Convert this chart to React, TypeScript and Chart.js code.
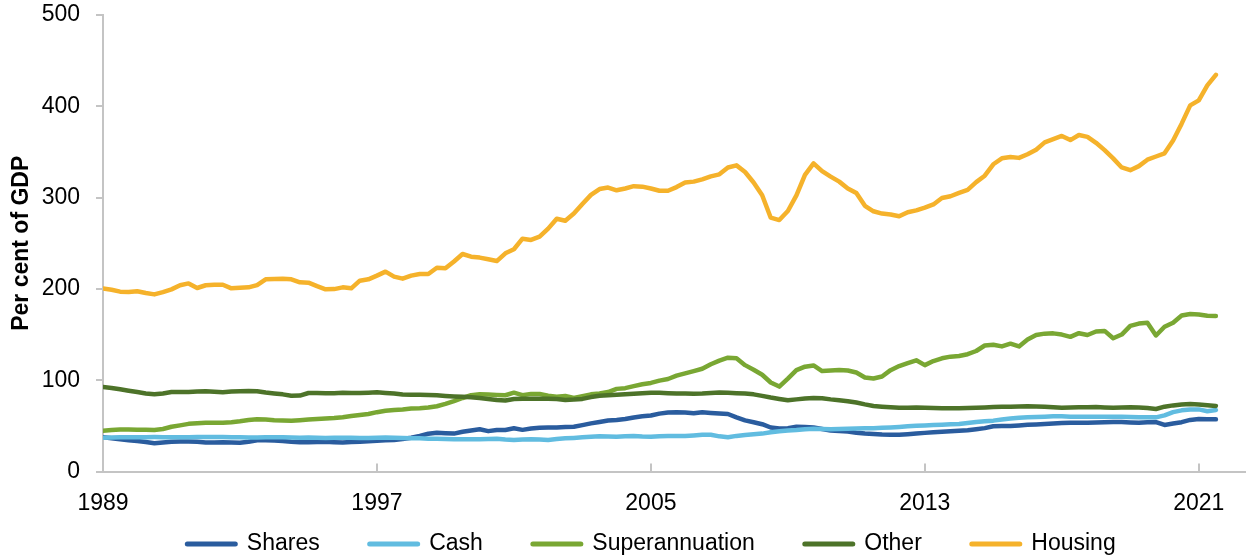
import React, { useEffect, useRef } from 'react';
import { Chart, registerables } from 'chart.js';

Chart.register(...registerables);

const START_YEAR = 1989;
const X_MAX = 2022.35;
const xTickYears = [1989, 1997, 2005, 2013, 2021];
const Y_MIN = 0;
const Y_MAX = 500;
const Y_STEP = 100;

const seriesNames = ['Shares', 'Cash', 'Superannuation', 'Other', 'Housing'];
const seriesColors = ['#2A5C9E', '#61BCE0', '#79A733', '#4D7329', '#F5B22B'];

const shares = [
  37.4, 36.5, 35.3, 34.3, 33.3, 32.2, 31, 31.8, 32.5, 32.8,
  32.9, 32.5, 31.8, 31.7, 32, 31.8, 31.6, 32.5, 34.2, 34.3,
  34, 33.5, 32.5, 32, 32, 32.2, 32.5, 32, 31.7, 32.3,
  32.7, 33.2, 33.8, 34.3, 34.6, 35.5, 37, 39, 41.3, 42.5,
  42, 41.5, 43.5, 45, 46.2, 44.2, 45.5, 45.5, 47.3, 45.6,
  47, 48, 48.3, 48.3, 48.7, 49, 50.8, 52.7, 54.2, 55.8,
  56.5, 57.5, 59.2, 60.4, 61.3, 63.4, 64.7, 65, 64.5, 63.7,
  65, 64.2, 63.5, 63, 59.3, 56, 54, 51.8, 48.2, 47.2,
  47.5, 49, 48.7, 48.2, 46.5, 45, 44.4, 43.8, 42.5, 41.5,
  41, 40.4, 40.3, 40.3, 40.8, 41.5, 42.3, 43, 43.5, 44,
  44.6, 45.3, 46.3, 47.5, 49.5, 49.8, 49.8, 50.5, 51.2, 51.5,
  52, 52.5, 53, 53.5, 53.5, 53.5, 53.7, 54, 54.2, 54.2,
  53.8, 53.5, 54, 54.2, 51, 52.5, 54, 56.5, 57.5, 57.2,
  57.1,
];

const cash = [
  37, 37.2, 37.4, 37.5, 37.5, 37.6, 37.7, 37.6, 37.5, 37.6,
  37.6, 37.7, 37.8, 37.8, 37.7, 37.5, 37.4, 37.3, 37.2, 37.4,
  37.5, 37.4, 37.2, 37.1, 37.2, 37.0, 36.8, 36.9, 37.1, 37.0,
  36.8, 36.6, 37.0, 37.2, 37.0, 36.8, 36.5, 36.3, 36.0, 35.8,
  35.5, 35.3, 35.2, 35.3, 35.2, 35.5, 35.8, 35, 34.5, 35,
  35.3, 35, 34.6, 35.5, 36.3, 36.8, 37.4, 38, 38.6, 38.3,
  38.1, 38.5, 38.8, 38.3, 38.1, 38.5, 38.8, 38.8, 38.8, 39.5,
  40.3, 40.3, 38.5, 37.5, 39, 40, 40.7, 41.5, 43, 44.2,
  45, 45.5, 46.3, 46.9, 46.6, 46.3, 46.5, 46.9, 47.2, 47.3,
  47.5, 47.8, 48.3, 48.8, 49.5, 50, 50.5, 50.9, 51.3, 51.7,
  52, 53, 54.2, 55, 55.7, 57, 58, 58.8, 59.3, 59.8,
  60.1, 60.6, 60.4, 60.1, 60.1, 60.1, 60.1, 60.1, 60.1, 60.1,
  59.8, 59.5, 59.3, 59.3, 61.5, 65, 67, 68, 68, 66,
  67.4,
];

const superannuation = [
  44.7, 45.5, 46, 46, 45.8, 45.6, 45.4, 46.5, 49, 50.5,
  52.2, 52.8, 53.5, 53.5, 53.5, 54, 55, 56.3, 57.3, 57,
  56.2, 55.8, 55.5, 56.2, 57, 57.5, 58, 58.5, 59.5, 60.8,
  62, 63, 65, 66.5, 67.4, 68, 68.9, 69.3, 70, 71.5,
  74, 77, 80.5, 83.5, 84.5, 84.3, 83.8, 83.5, 86.3, 83.6,
  85, 84.9, 83, 81.9, 82.7, 80.5, 82.5, 84.5, 85.5, 87,
  90.5, 91.3, 93.5, 95.5, 97, 99.5, 101.3, 105, 107.5, 109.9,
  112.5, 117.5, 121.5, 124.7, 124, 116.5, 111.5, 106, 97.5, 93,
  101.7, 111, 114.8, 116.2, 110, 110.5, 111.2, 110.6, 108.5, 103,
  101.8, 104, 111, 115.5, 118.8, 121.8, 116.5, 121, 124, 125.8,
  126.5, 128.5, 132, 138, 138.9, 137, 140, 137, 144.5, 149.5,
  151, 151.3, 150, 147.5, 151.5, 149.5, 153.3, 154, 146, 150,
  159.5, 162, 163, 149, 158.5, 163, 170.8, 172.5, 172, 170.5,
  170.3,
];

const other = [
  92.5, 91.5, 90, 88.5, 87, 85.5, 84.5, 85.5, 87, 87,
  87, 87.5, 87.8, 87.3, 86.8, 87.5, 88, 88.2, 88, 86.5,
  85.5, 84.5, 83, 83.2, 86, 86, 85.7, 85.8, 86.3, 86,
  85.9, 86.2, 86.7, 86, 85.4, 84.3, 84, 84.1, 83.9, 83.4,
  82.7, 82.2, 81.9, 81.4, 80.5, 79.3, 78.3, 77.8, 79.5, 79.8,
  79.8, 79.8, 79.8, 79.3, 78.4, 78.8, 79.5, 81.5, 83, 83.5,
  84, 84.5, 85.2, 85.8, 86.3, 86.3, 85.8, 85.5, 85.3, 85.2,
  85.4, 86, 86.6, 86.3, 85.8, 85.5, 84.5, 82.8, 81, 79.5,
  78, 79, 80, 80.5, 80.3, 79, 78, 77, 75.5, 73.5,
  71.8, 71, 70.3, 69.8, 69.8, 70.2, 69.8, 69.6, 69.4, 69.3,
  69.2, 69.5, 69.8, 70.1, 70.6, 71, 71, 71.1, 71.4, 71.2,
  71, 70.3, 69.7, 70.2, 70.3, 70.5, 70.7, 70.2, 69.9, 70.2,
  70.3, 70, 69.5, 68.5, 71, 72.4, 73.5, 73.9, 73.4, 72.5,
  71.8,
];

const housing = [
  200.5, 199, 197, 196.5, 197.5, 195.5, 194, 196.5, 199.5, 204,
  206, 201, 204, 204.5, 204.6, 200.6, 201.2, 201.7, 204.2, 210.5,
  210.8, 211.2, 210.5, 207.2, 206.8, 203, 199.5, 199.8, 201.7, 200.6,
  209, 210.5, 214.5, 218.9, 213.4, 211.2, 214.5, 216.3, 216.3, 223.2,
  222.5, 230, 238.2, 235.3, 234.3, 232.4, 230.5, 239, 243.4, 255,
  253.6, 257.2, 266, 276.9, 274.7, 282.5, 293, 303, 309.4, 311,
  308, 310, 312.5, 312, 310, 307.5, 307.5, 311.5, 316.5, 317.5,
  320, 323.3, 325.5, 333, 335.3, 328, 316.5, 302.5, 278, 275.4,
  285.3, 302.5, 325, 337.5, 329, 323, 317.5, 310, 305, 291,
  285, 282.5, 281.5, 279.5, 284, 286, 289, 292.5, 299.5, 301.5,
  305.2, 308.5, 317, 324, 336.5, 343, 344.5, 343.5, 347.5, 352.5,
  360.5, 364, 367.5, 363, 368.5, 366.5, 360, 352, 343, 333,
  330, 334.5, 341.5, 345, 348.5, 362.5, 381, 401, 406.5, 423,
  434.5,
];

const seriesValues = [shares, cash, superannuation, other, housing];

const FONT = "'Liberation Sans', Arial, sans-serif";
const AXIS_COLOR = '#C4C4C4';
const LEGEND_PADDING = 50;
const LEGEND_FONT = 23;
const LEGEND_CENTER_Y = 544;

export default function App() {
  const canvasRef = useRef<HTMLCanvasElement | null>(null);

  useEffect(() => {
    if (!canvasRef.current) return;
    const quarters = shares.map((_, i) => START_YEAR + i / 4);

    const innerTicks = {
      id: 'innerTicks',
      beforeDatasetsDraw(chart: any) {
        const xs = chart.scales.x;
        const ctx = chart.ctx;
        ctx.save();
        ctx.strokeStyle = AXIS_COLOR;
        ctx.lineWidth = 2;
        for (const t of xs.ticks) {
          const px = Math.round(xs.getPixelForValue(t.value));
          ctx.beginPath();
          ctx.moveTo(px, xs.top);
          ctx.lineTo(px, xs.top - 8);
          ctx.stroke();
        }
        ctx.restore();
      },
    };

    const legendPlace = {
      id: 'legendPlace',
      afterLayout(chart: any) {
        const l = chart.legend;
        if (!l) return;
        l.left += 29;
        l.right += 29;
        l.top = LEGEND_CENTER_Y - LEGEND_PADDING - LEGEND_FONT / 2;
        l.bottom = chart.height;
        l.height = l.bottom - l.top;
      },
    };

    const chart = new Chart(canvasRef.current, {
      type: 'line',
      data: {
        labels: quarters,
        datasets: seriesNames.map((name, k) => ({
          label: name,
          data: seriesValues[k],
          borderColor: seriesColors[k],
          backgroundColor: seriesColors[k],
          borderWidth: 4.5,
          pointRadius: 0,
          pointHoverRadius: 0,
          tension: 0,
          fill: false,
          borderCapStyle: 'round' as const,
          borderJoinStyle: 'round' as const,
          order: seriesNames.length - 1 - k,
        })),
      },
      options: {
        animation: false,
        responsive: true,
        maintainAspectRatio: false,
        layout: { padding: { top: 15, right: 2, left: 0, bottom: 0 } },
        plugins: {
          tooltip: { enabled: false },
          legend: {
            position: 'bottom',
            maxHeight: 40,
            labels: {
              usePointStyle: true,
              pointStyle: 'line',
              pointStyleWidth: 48,
              padding: LEGEND_PADDING,
              color: '#000',
              font: { family: FONT, size: LEGEND_FONT },
              sort: (a: any, b: any) => a.datasetIndex - b.datasetIndex,
              generateLabels: (chart: any) =>
                Chart.defaults.plugins.legend.labels
                  .generateLabels(chart)
                  .map((item: any) => ({ ...item, lineCap: 'round', lineWidth: 5 })),
            },
          },
        },
        scales: {
          x: {
            type: 'linear',
            min: START_YEAR,
            max: X_MAX,
            afterBuildTicks: (s: any) => {
              s.ticks = xTickYears.map((v) => ({ value: v }));
            },
            afterFit: (s: any) => {
              s.height = 46.5;
            },
            grid: { display: true, drawOnChartArea: false, drawTicks: false },
            border: { display: true, color: AXIS_COLOR, width: 2 },
            ticks: {
              autoSkip: false,
              maxRotation: 0,
              padding: 18,
              color: '#000',
              font: { family: FONT, size: 23 },
              callback: (v: any) => String(v),
            },
          },
          y: {
            min: Y_MIN,
            max: Y_MAX,
            afterFit: (s: any) => {
              s.width = 103;
              s.paddingTop = 0;
              s.paddingBottom = 0;
            },
            grid: {
              display: true,
              drawOnChartArea: false,
              drawTicks: true,
              tickLength: 7,
              color: AXIS_COLOR,
              lineWidth: 2,
            },
            border: { display: true, color: AXIS_COLOR, width: 2 },
            ticks: {
              stepSize: Y_STEP,
              padding: 16,
              color: '#000',
              font: { family: FONT, size: 23 },
              callback: (v: any) => String(v),
            },
            title: {
              display: true,
              text: 'Per cent of GDP',
              color: '#000',
              font: { family: FONT, size: 23, weight: 'bold' },
              padding: { top: 8, bottom: 0 },
            },
          },
        },
      },
      plugins: [innerTicks, legendPlace],
    } as any);

    return () => chart.destroy();
  }, []);

  return (
    <div
      style={{
        position: 'fixed',
        left: 0,
        top: 0,
        width: 1247,
        height: 558,
        background: '#fff',
      }}
    >
      <canvas ref={canvasRef} />
    </div>
  );
}
